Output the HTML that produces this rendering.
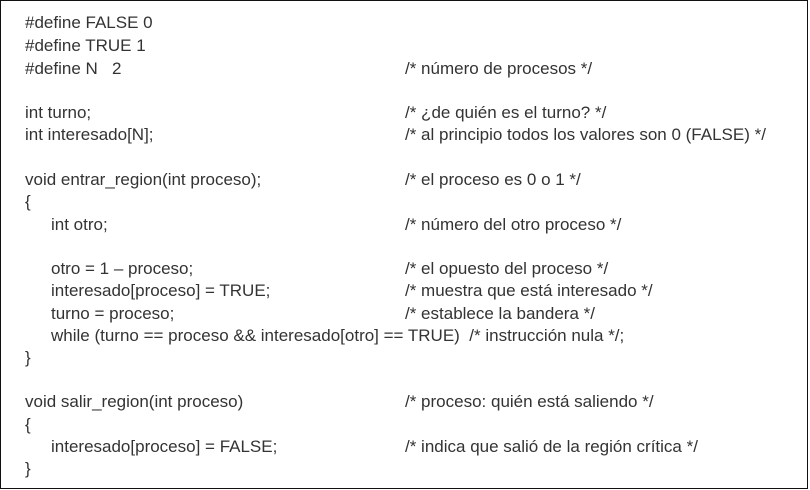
<!DOCTYPE html>
<html><head><meta charset="utf-8"><style>
body{margin:0;background:#fff;}
#b{position:absolute;left:0;top:0;width:806px;height:487px;border:1.5px solid #111;background:#fff;}
.l{position:absolute;font-family:"Liberation Sans",sans-serif;font-size:17px;color:#333;white-space:pre;line-height:20px;}
</style></head><body><div id="b"></div>
<div class="l" style="left:25px;top:13px">#define FALSE 0</div>
<div class="l" style="left:25px;top:36px">#define TRUE 1</div>
<div class="l" style="left:25px;top:59px">#define N   2</div>
<div class="l" style="left:405px;top:59px">/* número de procesos */</div>
<div class="l" style="left:25px;top:103px">int turno;</div>
<div class="l" style="left:405px;top:103px">/* ¿de quién es el turno? */</div>
<div class="l" style="left:25px;top:125px">int interesado[N];</div>
<div class="l" style="left:405px;top:125px">/* al principio todos los valores son 0 (FALSE) */</div>
<div class="l" style="left:25px;top:170px">void entrar_region(int proceso);</div>
<div class="l" style="left:405px;top:170px">/* el proceso es 0 o 1 */</div>
<div class="l" style="left:25px;top:192px">{</div>
<div class="l" style="left:51px;top:215px">int otro;</div>
<div class="l" style="left:405px;top:215px">/* número del otro proceso */</div>
<div class="l" style="left:51px;top:259px">otro = 1 – proceso;</div>
<div class="l" style="left:405px;top:259px">/* el opuesto del proceso */</div>
<div class="l" style="left:51px;top:281px">interesado[proceso] = TRUE;</div>
<div class="l" style="left:405px;top:281px">/* muestra que está interesado */</div>
<div class="l" style="left:51px;top:304px">turno = proceso;</div>
<div class="l" style="left:405px;top:304px">/* establece la bandera */</div>
<div class="l" style="left:51px;top:326px">while (turno == proceso &amp;&amp; interesado[otro] == TRUE)  /* instrucción nula */;</div>
<div class="l" style="left:25px;top:348px">}</div>
<div class="l" style="left:25px;top:392px">void salir_region(int proceso)</div>
<div class="l" style="left:405px;top:392px">/* proceso: quién está saliendo */</div>
<div class="l" style="left:25px;top:415px">{</div>
<div class="l" style="left:51px;top:437px">interesado[proceso] = FALSE;</div>
<div class="l" style="left:405px;top:437px">/* indica que salió de la región crítica */</div>
<div class="l" style="left:25px;top:459px">}</div>
</body></html>
